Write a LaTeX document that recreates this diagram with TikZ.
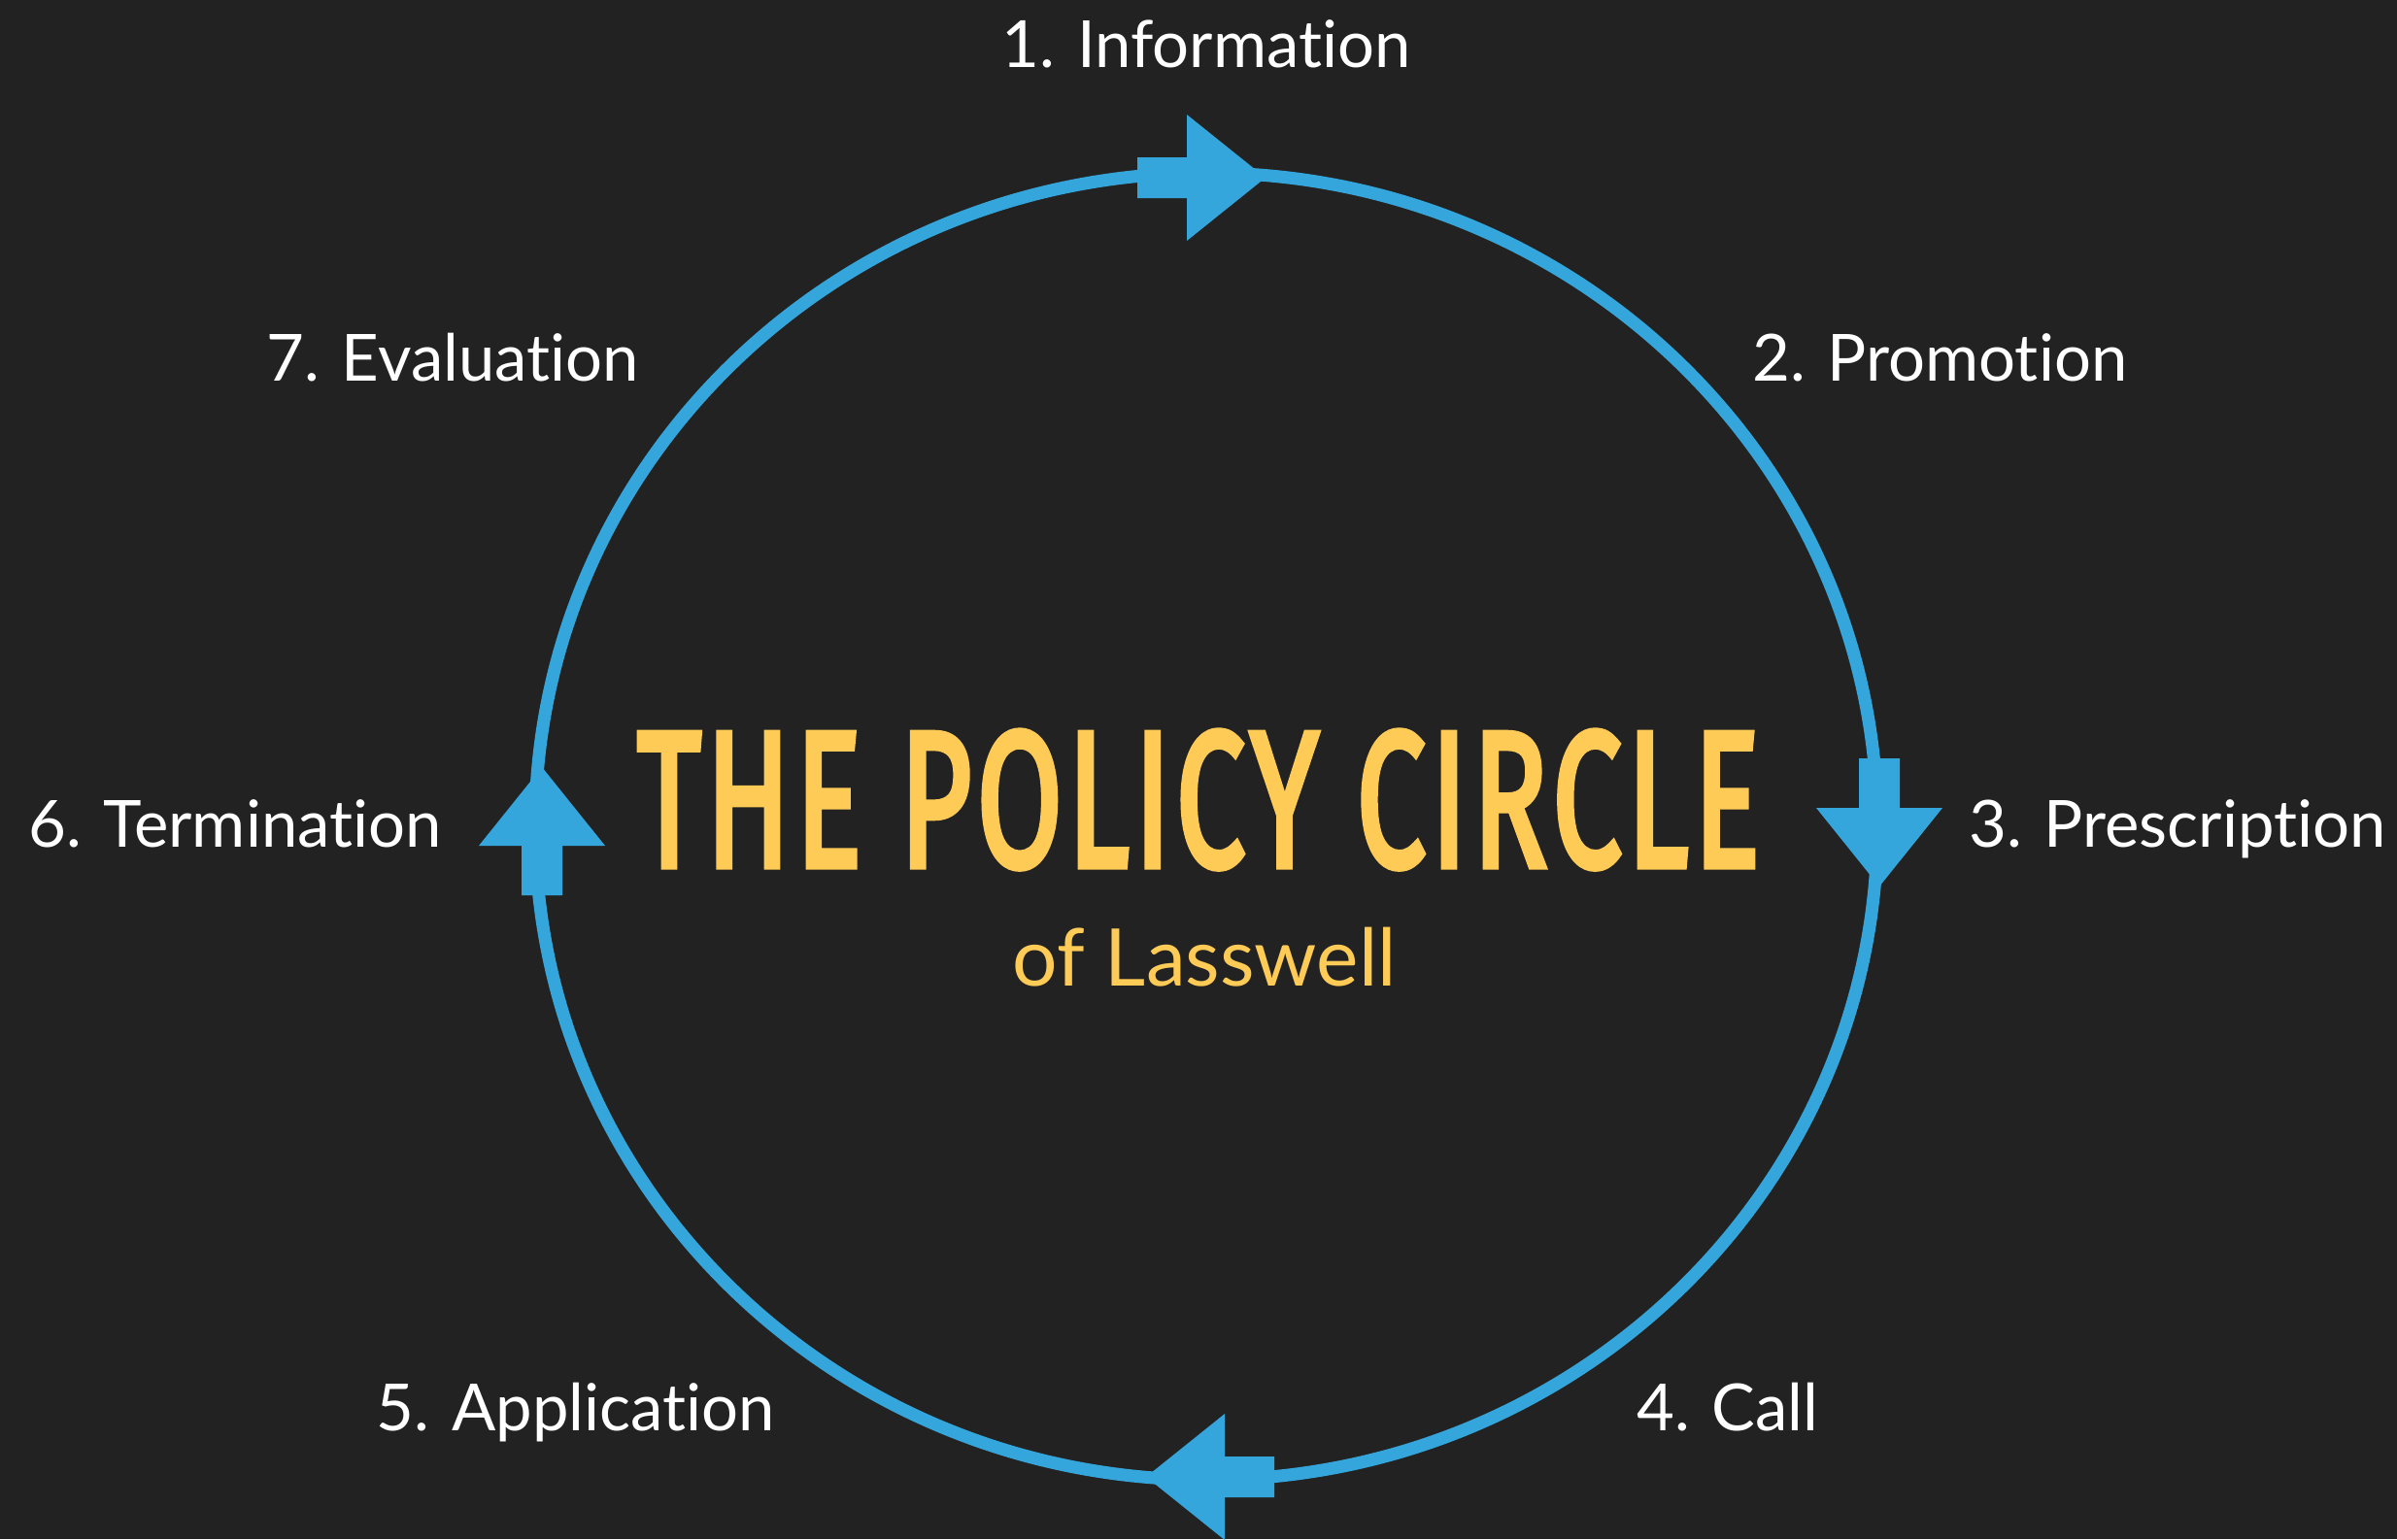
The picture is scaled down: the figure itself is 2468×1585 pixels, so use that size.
\documentclass[tikz,border=0pt]{standalone}
\usepackage{fontspec}
\setmainfont{Lato}[Ligatures=NoCommon]
\newfontfamily\titlefont{Fira Sans}[FakeBold=3.5, LetterSpace=4, Kerning=Off]
\definecolor{bg}{HTML}{222222}
\definecolor{cblue}{HTML}{35A6DC}
\definecolor{cyellow}{HTML}{FECB57}
\begin{document}
\begin{tikzpicture}[x=1pt,y=-1pt,
  lab/.style={text=white, inner sep=0pt, font=\fontsize{67}{80}\selectfont},
  ring/.style={draw=cblue, line width=13pt},
  bigarrow/.pic={\fill[cblue] (0,0) -- (-81,-65) -- (-81,-21) -- (-132,-21) -- (-132,21) -- (-81,21) -- (-81,65) -- cycle;}]
\useasboundingbox (0,0) rectangle (2468,1585);
\fill[bg] (0,0) rectangle (2468,1585);
\clip (0,0) rectangle (2468,1585);
% the cycle
\draw[ring] (1242,851) ellipse [x radius=691pt, y radius=673pt];
\pic at (1303,183) {bigarrow};
\pic[rotate=-90] at (1935,913) {bigarrow};
\pic[rotate=180] at (1180,1521) {bigarrow};
\pic[rotate=90] at (558,790) {bigarrow};
% labels
\node[lab, anchor=base] (l1) at (1242,69) {1. Information};
\node[lab, anchor=base west] (l2) at (1804,392) {2. Promotion};
\node[lab, anchor=base west] (l3) at (2027,872) {3. Prescription};
\node[lab, anchor=base west] (l4) at (1685,1473) {4. Call};
\node[lab, anchor=base east] (l5) at (798,1473) {5. Application};
\node[lab, anchor=base east] (l6) at (455,872) {6. Termination};
\node[lab, anchor=base east] (l7) at (658,392) {7. Evaluation};
% title
\node[anchor=base, inner sep=0pt, text=cyellow] (title) at (1234,892)
  {\resizebox{1156pt}{139pt}{\titlefont THE POLICY CIRCLE}};
\node[anchor=base, inner sep=0pt, text=cyellow, font=\fontsize{82}{92}\selectfont] (sub) at (1240,1015) {of Lasswell};
\end{tikzpicture}
\end{document}
